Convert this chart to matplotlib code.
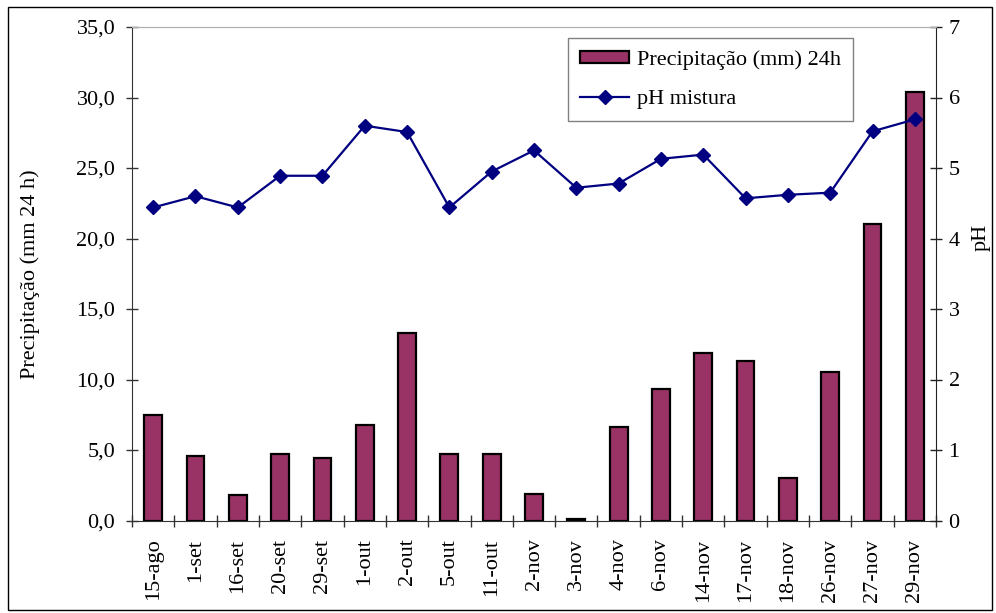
import matplotlib
matplotlib.use('Agg')
import matplotlib.pyplot as plt
import numpy as np
from matplotlib.ticker import FuncFormatter, MultipleLocator
from matplotlib.patches import Rectangle

dates = ['15-ago', '1-set', '16-set', '20-set', '29-set', '1-out', '2-out', '5-out',
         '11-out', '2-nov', '3-nov', '4-nov', '6-nov', '14-nov', '17-nov', '18-nov',
         '26-nov', '27-nov', '29-nov']
precip = [7.5, 4.6, 1.8, 4.7, 4.4, 6.8, 13.3, 4.7, 4.7, 1.9, 0.1, 6.6, 9.3, 11.9,
          11.3, 3.0, 10.5, 21.0, 30.4]
ph = [4.44, 4.60, 4.44, 4.89, 4.89, 5.60, 5.51, 4.44, 4.95, 5.25, 4.72, 4.78, 5.13,
      5.19, 4.57, 4.62, 4.65, 5.52, 5.69]

plt.rcParams['font.family'] = ['Liberation Serif', 'DejaVu Serif']
plt.rcParams['font.size'] = 16

W, H = 996, 613
fig = plt.figure(figsize=(W / 100, H / 100), dpi=100)
L, R, T, B = 132, 936, 27, 520.5
ax = fig.add_axes([L / W, 1 - B / H, (R - L) / W, (B - T) / H])

x = np.arange(len(dates))
bars = ax.bar(x, precip, width=0.42, color='#993366', edgecolor='black',
              linewidth=1.6, zorder=2, label='Precipitação (mm) 24h')
ax.set_xlim(-0.5, len(dates) - 0.5)
ax.set_ylim(0, 35)
ax.yaxis.set_major_locator(MultipleLocator(5))
ax.yaxis.set_major_formatter(FuncFormatter(lambda v, p: f"{v:.1f}".replace('.', ',')))

ax.set_xticks(x)
ax.set_xticklabels(dates, rotation=90, va='top', ha='center')
ax.set_xticks(np.arange(-0.5, len(dates), 1), minor=True)
ax.tick_params(axis='x', which='major', length=0, pad=13)
ax.tick_params(axis='x', which='minor', direction='inout', length=9, width=1, color='#333333')
ax.tick_params(axis='y', direction='inout', length=8, width=1, color='#333333', pad=8)

ax2 = ax.twinx()
line, = ax2.plot(x, ph, color='#000080', marker='D', ms=7, lw=1.6, label='pH mistura', zorder=3)
ax2.set_ylim(0, 7)
ax2.yaxis.set_major_locator(MultipleLocator(1))
ax2.tick_params(axis='y', direction='inout', length=8, width=1, color='#222222', pad=5)

for a in (ax, ax2):
    a.spines['top'].set_color('#b0b0b0')
    a.spines['left'].set_color('#333333')
    a.spines['bottom'].set_color('#333333')
    a.spines['right'].set_color('#222222')
ax.spines['right'].set_visible(False)
ax2.spines['left'].set_visible(False)
ax2.spines['bottom'].set_visible(False)

ax.set_ylabel('Precipitação (mm 24 h)')
ax.yaxis.set_label_coords((40 - L) / (R - L), 0.5)
ax2.set_ylabel('pH')
ax2.yaxis.set_label_coords((972 - L) / (R - L), (B - 237) / (B - T))

leg = fig.legend([bars, line], ['Precipitação (mm) 24h', 'pH mistura'],
                 loc='upper left', bbox_to_anchor=(568 / W, 1 - 38 / H),
                 frameon=True, fancybox=False, framealpha=1, edgecolor='#808080',
                 borderpad=0.55, handlelength=2.2, handleheight=0.5,
                 handletextpad=0.35, labelspacing=0.9, borderaxespad=0)
leg.get_frame().set_linewidth(1.0)

fig.add_artist(Rectangle((8 / W, 3 / H), (992 - 8) / W, (610 - 7) / H, fill=False,
                         edgecolor='black', linewidth=1, transform=fig.transFigure))

fig.savefig('out.png', dpi=100)
